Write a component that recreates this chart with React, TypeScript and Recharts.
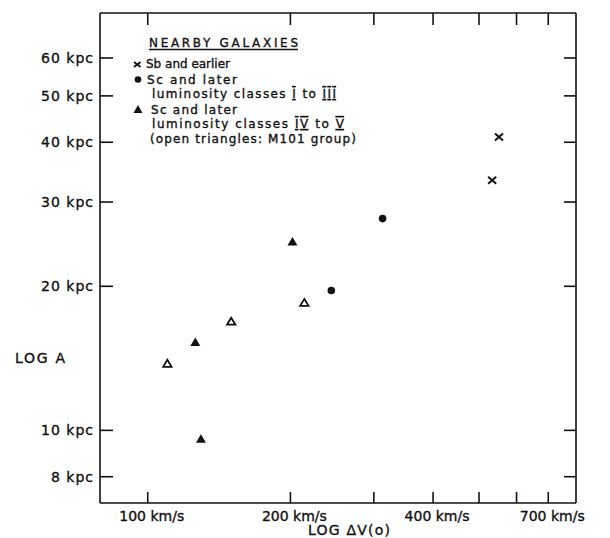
import React from 'react';
import { ScatterChart, Scatter, XAxis, YAxis } from 'recharts';

// ---- tick values / labels ----
const xTicks = [100, 200, 300, 400, 500, 600, 700];
const xTickLabels: Record<number, string> = { 100: '100 km/s', 200: '200 km/s', 400: '400 km/s', 700: '700 km/s' };
const yTicks = [8, 10, 20, 30, 40, 50, 60];
const yTickLabels: Record<number, string> = { 8: '8 kpc', 10: '10 kpc', 20: '20 kpc', 30: '30 kpc', 40: '40 kpc', 50: '50 kpc', 60: '60 kpc' };

// ---- series: ΔV(o) in km/s, A in kpc ----
const sbV = [551, 533];
const sbA = [41.0, 33.3];
const scV = [313, 244];
const scA = [27.7, 19.6];
const faintV = [202, 126, 129.5];
const faintA = [24.8, 15.3, 9.6];
const m101V = [214, 150, 110];
const m101A = [18.5, 16.9, 13.8];

const xDomain = [79.3, 801];
const yDomain = [7.05, 74.5];

const toPts = (v: number[], a: number[]) => v.map((x, i) => ({ v: x, a: a[i] }));
const sbPts = toPts(sbV, sbA);
const scPts = toPts(scV, scA);
const faintPts = toPts(faintV, faintA);
const m101Pts = toPts(m101V, m101A);
const allPts = [...sbPts, ...scPts, ...faintPts, ...m101Pts];

const INK = '#111';
const FONT = '"DejaVu Sans", sans-serif';
const TXT = { stroke: INK, strokeWidth: 0.35 };

const Cross = (p: any) => (
  <g>
    <line x1={p.cx - 4} y1={p.cy - 3.5} x2={p.cx + 4} y2={p.cy + 3.5} stroke={INK} strokeWidth={2} />
    <line x1={p.cx - 4} y1={p.cy + 3.5} x2={p.cx + 4} y2={p.cy - 3.5} stroke={INK} strokeWidth={2} />
  </g>
);
const Dot = (p: any) => <circle cx={p.cx} cy={p.cy} r={3.8} fill={INK} />;
const triPath = (cx: number, cy: number) => `M${cx},${cy - 4.5} L${cx + 5},${cy + 4} L${cx - 5},${cy + 4} Z`;
const FilledTri = (p: any) => <path d={triPath(p.cx, p.cy)} fill={INK} />;
const OpenTri = (p: any) => (
  <path d={`M${p.cx},${p.cy - 3.6} L${p.cx + 4.2},${p.cy + 3.4} L${p.cx - 4.2},${p.cy + 3.4} Z`} fill="#fff" stroke={INK} strokeWidth={1.8} strokeLinejoin="miter" />
);
const Nothing = () => <g />;

const BottomTick = (p: any) => {
  const lab = xTickLabels[p.payload.value];
  return (
    <g>
      <line x1={p.x} y1={p.y} x2={p.x} y2={p.y - 11} stroke={INK} strokeWidth={1.6} />
      {lab && (
        <text x={p.x + 4} y={p.y + 17.5} textAnchor="middle" fontSize={14} fontFamily={FONT} fill={INK} {...TXT}>
          {lab}
        </text>
      )}
    </g>
  );
};
const TopTick = (p: any) => (
  <line x1={p.x} y1={p.y} x2={p.x} y2={p.y + 12} stroke={INK} strokeWidth={1.6} />
);
const LeftTick = (p: any) => (
  <g>
    <line x1={p.x} y1={p.y} x2={p.x + 13} y2={p.y} stroke={INK} strokeWidth={1.6} />
    <text x={p.x - 6} y={p.y + 5} textAnchor="end" fontSize={14} fontFamily={FONT} fill={INK} letterSpacing={1} {...TXT}>
      {yTickLabels[p.payload.value]}
    </text>
  </g>
);
const RightTick = (p: any) => (
  <line x1={p.x} y1={p.y} x2={p.x - 12} y2={p.y} stroke={INK} strokeWidth={1.6} />
);

const numeral = { textDecoration: 'underline overline' } as React.CSSProperties;

export default function App() {
  const axisLine = { stroke: INK, strokeWidth: 1.6 };
  return (
    <div style={{ position: 'absolute', left: 0, top: 0, width: 610, height: 538, background: '#fff' }}>
      <ScatterChart width={610} height={538} margin={{ top: 0, right: 0, bottom: 0, left: 0 }}>
        <XAxis xAxisId="b" dataKey="v" type="number" scale="log" domain={xDomain} allowDataOverflow
          ticks={xTicks} interval={0} height={35} tickSize={0} tickMargin={0} tickLine={false}
          axisLine={axisLine} tick={BottomTick} />
        <XAxis xAxisId="t" orientation="top" dataKey="v" type="number" scale="log" domain={xDomain} allowDataOverflow
          ticks={xTicks} interval={0} height={13} tickSize={0} tickMargin={0} tickLine={false}
          axisLine={axisLine} tick={TopTick} />
        <YAxis yAxisId="l" dataKey="a" type="number" scale="log" domain={yDomain} allowDataOverflow
          ticks={yTicks} interval={0} width={100} tickSize={0} tickMargin={0} tickLine={false}
          axisLine={axisLine} tick={LeftTick} />
        <YAxis yAxisId="r" orientation="right" dataKey="a" type="number" scale="log" domain={yDomain} allowDataOverflow
          ticks={yTicks} interval={0} width={34} tickSize={0} tickMargin={0} tickLine={false}
          axisLine={axisLine} tick={RightTick} />
        <Scatter xAxisId="t" yAxisId="r" data={allPts} shape={Nothing} isAnimationActive={false} />
        <Scatter xAxisId="b" yAxisId="l" data={sbPts} shape={Cross} isAnimationActive={false} />
        <Scatter xAxisId="b" yAxisId="l" data={scPts} shape={Dot} isAnimationActive={false} />
        <Scatter xAxisId="b" yAxisId="l" data={faintPts} shape={FilledTri} isAnimationActive={false} />
        <Scatter xAxisId="b" yAxisId="l" data={m101Pts} shape={OpenTri} isAnimationActive={false} />
      </ScatterChart>
      <svg width={610} height={538} style={{ position: 'absolute', left: 0, top: 0, pointerEvents: 'none' }}
        fontFamily={FONT} fill={INK}>
        <g {...TXT}>
          <text x={149} y={47} fontSize={12} textLength={149} lengthAdjust="spacing">NEARBY GALAXIES</text>
          <text x={146} y={68} fontSize={12} textLength={84} lengthAdjust="spacing">Sb and earlier</text>
          <text x={147} y={83.5} fontSize={12} textLength={90} lengthAdjust="spacing">Sc and later</text>
          <text x={152} y={98} fontSize={12} textLength={184} lengthAdjust="spacing">
            luminosity classes <tspan style={numeral}>I</tspan> to <tspan style={numeral}>III</tspan>
          </text>
          <text x={151} y={113.5} fontSize={12} textLength={86} lengthAdjust="spacing">Sc and later</text>
          <text x={152} y={128} fontSize={12} textLength={192} lengthAdjust="spacing">
            luminosity classes <tspan style={numeral}>IV</tspan> to <tspan style={numeral}>V</tspan>
          </text>
          <text x={150} y={142.5} fontSize={12} textLength={206} lengthAdjust="spacing">(open triangles: M101 group)</text>
          <text x={15} y={363} fontSize={14} textLength={50} lengthAdjust="spacing">LOG A</text>
          <text x={308} y={535} fontSize={14} textLength={82} lengthAdjust="spacing">LOG ΔV(o)</text>
        </g>
        <line x1={149} y1={49.5} x2={298} y2={49.5} stroke={INK} strokeWidth={1.3} />
        <g stroke={INK} strokeWidth={1.8}>
          <line x1={134} y1={62} x2={140.5} y2={67} />
          <line x1={134} y1={67} x2={140.5} y2={62} />
        </g>
        <circle cx={138} cy={79.5} r={3.3} fill={INK} />
        <path d="M138,105 L142.5,113 L133.5,113 Z" fill={INK} />
      </svg>
    </div>
  );
}
